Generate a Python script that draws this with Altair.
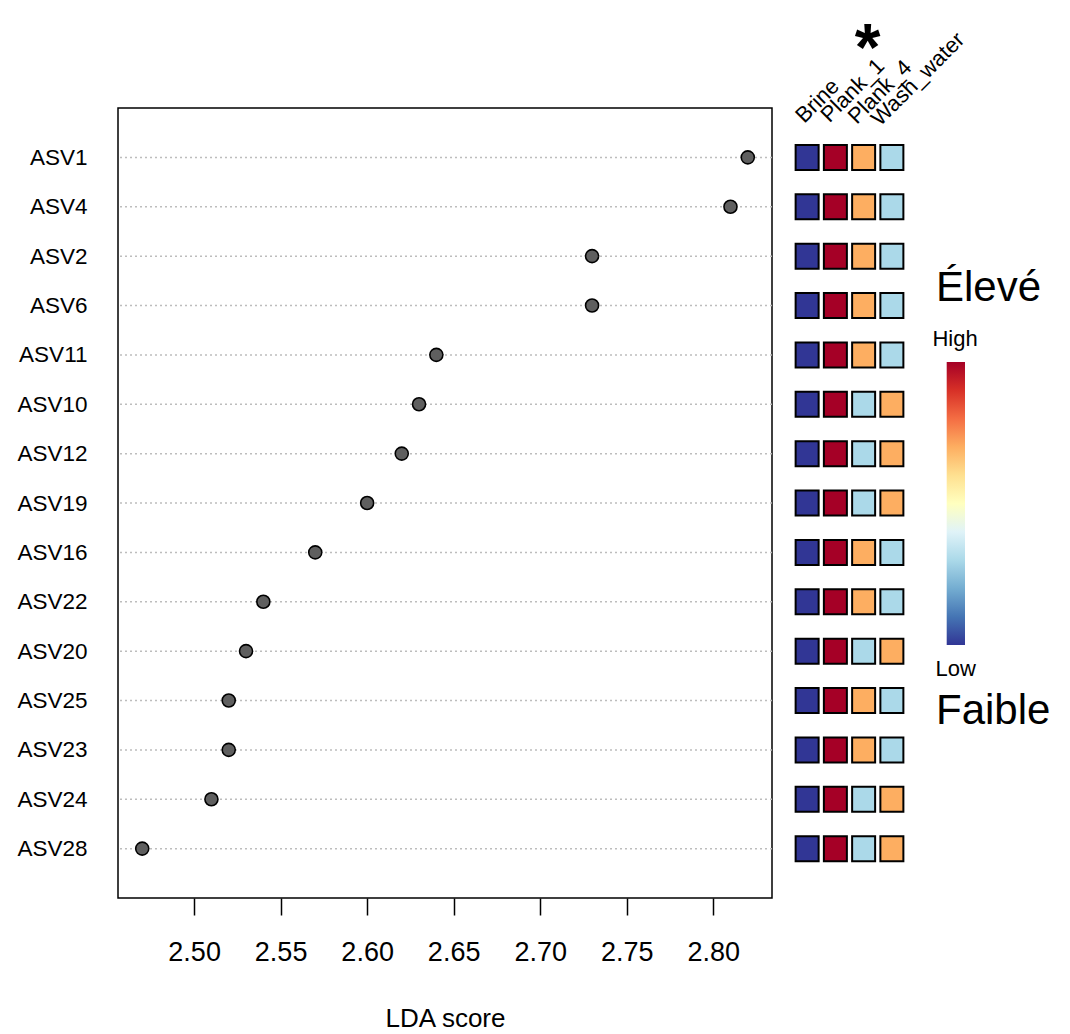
import altair as alt
import pandas as pd

FONT = "Liberation Sans"

# ---- data -------------------------------------------------------------
asv = ["ASV1", "ASV4", "ASV2", "ASV6", "ASV11", "ASV10", "ASV12", "ASV19",
       "ASV16", "ASV22", "ASV20", "ASV25", "ASV23", "ASV24", "ASV28"]
lda = [2.82, 2.81, 2.73, 2.73, 2.64, 2.63, 2.62, 2.60,
       2.57, 2.54, 2.53, 2.52, 2.52, 2.51, 2.47]

groups = ["Brine", "Plank_1", "Plank_4", "Wash_water"]
# relative abundance level per group (1 = lowest ... 4 = highest)
lvl_brine = [1, 1, 1, 1, 1, 1, 1, 1, 1, 1, 1, 1, 1, 1, 1]
lvl_plank1 = [4, 4, 4, 4, 4, 4, 4, 4, 4, 4, 4, 4, 4, 4, 4]
lvl_plank4 = [3, 3, 3, 3, 3, 2, 2, 2, 3, 3, 2, 3, 3, 2, 2]
lvl_wash = [2, 2, 2, 2, 2, 3, 3, 3, 2, 2, 3, 2, 2, 3, 3]

level_names = ["1", "2", "3", "4"]
level_colors = ["#313695", "#abd9e9", "#fdae61", "#a50026"]

x_ticks = [2.50, 2.55, 2.60, 2.65, 2.70, 2.75, 2.80]
x_domain = [2.456, 2.834]

rdylbu = ["#313695", "#4575b4", "#74add1", "#abd9e9", "#e0f3f8", "#ffffbf",
          "#fee090", "#fdae61", "#f46d43", "#d73027", "#a50026"]

# ---- tables -----------------------------------------------------------
df = pd.DataFrame({"asv": asv, "lda": lda})
heat_rows = []
for g, lv in zip(groups, [lvl_brine, lvl_plank1, lvl_plank4, lvl_wash]):
    for a, v in zip(asv, lv):
        heat_rows.append({"asv": a, "group": g, "level": str(v)})
heat_df = pd.DataFrame(heat_rows)
star_df = pd.DataFrame({"group": ["Plank_4"], "t": ["*"]})
one = pd.DataFrame({"a": [0]})

W, H = 654, 790

# ---- main dot plot ---------------------------------------------------
y_main = alt.Y("asv:N", sort=asv, title=None,
               scale=alt.Scale(type="point", padding=1),
               axis=alt.Axis(labelFontSize=22.5, labelPadding=31, ticks=False,
                             domain=False, grid=False, labelColor="black",
                             labelFont=FONT))

rules = alt.Chart(df).mark_rule(color="#bdbdbd", strokeDash=[2, 3],
                                strokeWidth=1.5).encode(y=y_main)

points = alt.Chart(df).mark_point(filled=True, fill="#5f5f5f", stroke="black",
                                  strokeWidth=1.6, size=170, opacity=1,
                                  shape="circle").encode(
    x=alt.X("lda:Q", title="LDA score",
            scale=alt.Scale(domain=x_domain, nice=False, zero=False),
            axis=alt.Axis(values=x_ticks, format=".2f", tickSize=17,
                          tickWidth=1.5, tickColor="black", domain=False,
                          grid=False, labelFontSize=27, labelPadding=24,
                          labelColor="black", labelFont=FONT,
                          titleFontSize=26, titleFontWeight="normal",
                          titlePadding=40, titleColor="black",
                          titleFont=FONT)),
    y=y_main,
)

main = alt.layer(rules, points).properties(
    width=W, height=H,
    view=alt.ViewBackground(stroke="black", strokeWidth=1.5))

# ---- heatmap ------------------------------------------------------------
x_heat = alt.X("group:N", sort=groups, axis=None,
               scale=alt.Scale(paddingInner=0, paddingOuter=0))

cells = alt.Chart(heat_df).mark_rect(width=23, height=25, stroke="black",
                                     strokeWidth=2).encode(
    x=x_heat,
    y=alt.Y("asv:N", sort=asv, axis=None,
            scale=alt.Scale(paddingInner=0, paddingOuter=0.5)),
    color=alt.Color("level:N", legend=None,
                    scale=alt.Scale(domain=level_names, range=level_colors)),
)

# rotated column labels (individual fine offsets)
label_dx = [-3, -6, -7, -12]
label_y = [16, 15.5, 17, 19]
col_labels = [
    alt.Chart(pd.DataFrame({"group": [g]})).mark_text(
        angle=315, align="left", baseline="alphabetic", fontSize=22,
        xOffset=dx, font=FONT, color="black").encode(
        x=x_heat, y=alt.value(yv), text="group:N")
    for g, dx, yv in zip(groups, label_dx, label_y)
]

star = alt.Chart(star_df).mark_text(fontSize=66, fontWeight="bold",
                                    baseline="middle", xOffset=4, font=FONT,
                                    color="black").encode(
    x=x_heat, y=alt.value(-58), text="t:N")

heat = alt.layer(cells, *col_labels, star).properties(
    width=113, height=H,
    view=alt.ViewBackground(stroke="transparent"))

# ---- colour legend -------------------------------------------------------
grad = alt.LinearGradient(
    gradient="linear", x1=0, x2=0, y1=1, y2=0,
    stops=[alt.GradientStop(color=c, offset=i / (len(rdylbu) - 1))
           for i, c in enumerate(rdylbu)])

bar = alt.Chart(one).mark_rect(color=grad).encode(
    x=alt.value(19.7), x2=alt.value(38), y=alt.value(254), y2=alt.value(537))

def label(txt, x, y, size, align):
    return alt.Chart(pd.DataFrame({"t": [txt]})).mark_text(
        fontSize=size, align=align, baseline="alphabetic", font=FONT,
        color="black").encode(x=alt.value(x), y=alt.value(y), text="t:N")

legend = alt.layer(
    bar,
    label("High", 28, 238, 22, "center"),
    label("Low", 28.7, 568, 22, "center"),
    label("Élevé", 9, 193, 42, "left"),
    label("Faible", 9, 616, 42, "left"),
).properties(width=122, height=H,
             view=alt.ViewBackground(stroke="transparent"))

chart = alt.hconcat(main, heat, legend, spacing=21, bounds="flush").properties(
    padding={"left": 8, "top": 8, "right": 2, "bottom": 0},
    background="white",
).configure_view(stroke="transparent").configure(font=FONT)

chart.save("out.html", embed_options={"renderer": "svg", "actions": False})
